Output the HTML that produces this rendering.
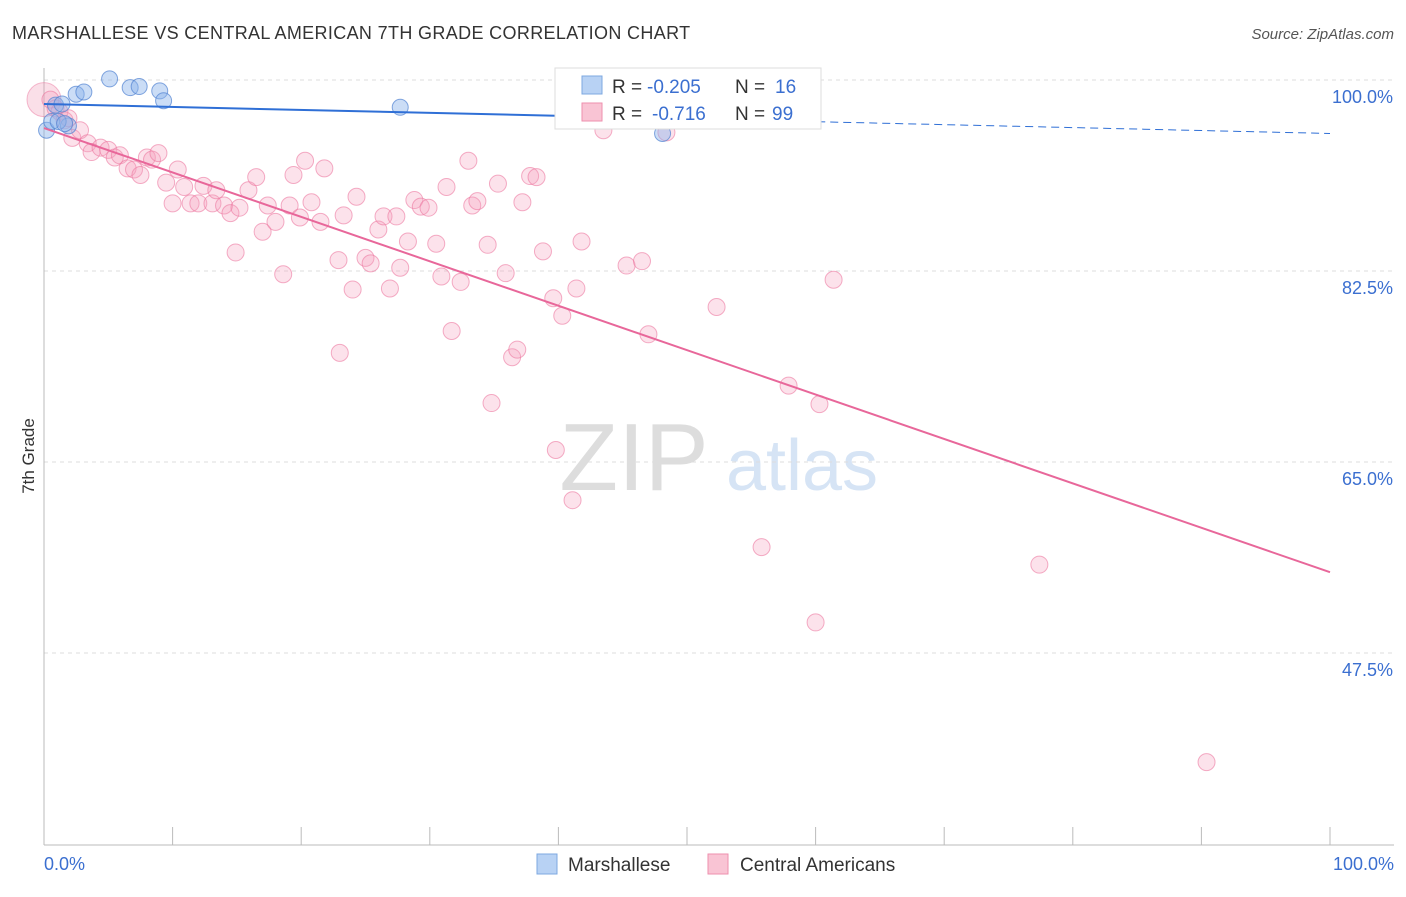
<!DOCTYPE html>
<html><head><meta charset="utf-8"><style>
body{margin:0;background:#fff;font-family:"Liberation Sans",sans-serif;}
svg text{font-family:"Liberation Sans",sans-serif;}
</style></head><body>
<svg id="chart" width="1406" height="892" xmlns="http://www.w3.org/2000/svg">
<text x="12" y="39" font-size="18" fill="#333" letter-spacing="0.35">MARSHALLESE VS CENTRAL AMERICAN 7TH GRADE CORRELATION CHART</text>
<text x="1394" y="39" font-size="15" fill="#555" text-anchor="end" font-style="italic">Source: ZipAtlas.com</text>
<text transform="translate(34,456) rotate(-90)" font-size="17" fill="#333" text-anchor="middle">7th Grade</text>
<g>
<text x="634" y="490" font-size="96" fill="#ddd" text-anchor="middle" font-family="Liberation Serif, serif">ZIP</text>
<text x="802" y="490" font-size="72" fill="#d6e4f5" text-anchor="middle">atlas</text>
</g>
<g id="grid"></g><g id="axes"></g><g id="marks"></g>
<g>
<rect x="555" y="68" width="266" height="61" fill="#fff" stroke="#ddd"/>
<rect x="582" y="76" width="20" height="18" fill="#b8d2f4" stroke="#7ea8e0"/>
<text x="612" y="93" font-size="19" fill="#333">R =</text>
<text x="647" y="93" font-size="19" fill="#3b6fd0">-0.205</text>
<text x="735" y="93" font-size="19" fill="#333">N =</text>
<text x="775" y="93" font-size="19" fill="#3b6fd0">16</text>
<rect x="582" y="103" width="20" height="18" fill="#f9c4d4" stroke="#ee8fae"/>
<text x="612" y="120" font-size="19" fill="#333">R =</text>
<text x="652" y="120" font-size="19" fill="#3b6fd0">-0.716</text>
<text x="735" y="120" font-size="19" fill="#333">N =</text>
<text x="772" y="120" font-size="19" fill="#3b6fd0">99</text>
</g>
<g>
<rect x="537" y="854" width="20" height="20" fill="#b8d2f4" stroke="#7ea8e0"/>
<text x="568" y="871" font-size="19" fill="#333">Marshallese</text>
<rect x="708" y="854" width="20" height="20" fill="#f9c4d4" stroke="#ee8fae"/>
<text x="740" y="871" font-size="19" fill="#333">Central Americans</text>
</g>
</svg>
<script>
const yTicks=[100,82.5,65,47.5];
const yTickLabels=["100.0%","82.5%","65.0%","47.5%"];
const xEndLabels=["0.0%","100.0%"];
const blueX=[0.2,0.6,0.9,1.4,1.9,2.5,3.1,5.1,6.7,7.4,9.0,9.3,27.7,48.1,1.1,1.6];
const blueY=[95.4,96.2,97.7,97.8,95.8,98.7,98.9,100.1,99.3,99.4,99.0,98.1,97.5,95.1,96.2,96.0];
const pinkX=[0.5,0.9,1.2,1.6,1.9,2.2,2.8,3.4,3.7,4.4,5.0,5.5,5.9,6.5,7.0,7.5,8.0,8.4,8.9,9.5,10.0,10.4,10.9,11.4,12.0,12.4,13.1,13.4,14.0,14.5,14.9,15.2,15.9,16.5,17.0,17.4,18.0,18.6,19.1,19.4,19.9,20.3,20.8,21.5,21.8,22.9,23.0,23.3,24.0,24.3,25.0,25.4,26.0,26.4,26.9,27.4,27.7,28.3,28.8,29.3,29.9,30.5,30.9,31.3,31.7,32.4,33.0,33.3,33.7,34.5,34.8,35.3,35.9,36.4,36.8,37.2,37.8,38.3,38.8,39.6,39.8,40.3,41.1,41.4,41.8,43.5,45.3,46.5,47.0,48.4,52.3,55.8,57.9,60.0,60.3,61.4,77.4,90.4,49.0];
const pinkY=[98.2,97.4,97.1,96.3,96.5,94.7,95.4,94.2,93.4,93.8,93.6,92.9,93.1,91.9,91.8,91.3,92.9,92.7,93.3,90.6,88.7,91.8,90.2,88.7,88.7,90.3,88.7,89.9,88.5,87.8,84.2,88.3,89.9,91.1,86.1,88.5,87.0,82.2,88.5,91.3,87.4,92.6,88.8,87.0,91.9,83.5,75.0,87.6,80.8,89.3,83.7,83.2,86.3,87.5,80.9,87.5,82.8,85.2,89.0,88.4,88.3,85.0,82.0,90.2,77.0,81.5,92.6,88.5,88.9,84.9,70.4,90.5,82.3,74.6,75.3,88.8,91.2,91.1,84.3,80.0,66.1,78.4,61.5,80.9,85.2,95.4,83.0,83.4,76.7,95.2,79.2,57.2,72.0,50.3,70.3,81.7,55.6,37.5,100.0];
const blueTrend=[97.8,95.1];
const pinkTrend=[95.6,54.9];
const X=v=>44+v*12.86;
const Y=v=>80+(100-v)*10.914;
const NS="http://www.w3.org/2000/svg";
function mk(tag,attrs,parent){const e=document.createElementNS(NS,tag);for(const k in attrs)e.setAttribute(k,attrs[k]);document.getElementById(parent).appendChild(e);return e;}
yTicks.forEach((t,i)=>{
 const l=mk('line',{x1:44,x2:1394,y1:Y(t),y2:Y(t),stroke:'#ddd','stroke-dasharray':'4,4'},'grid');
 
 
 const tx=mk('text',{x:1393,y:Y(t)+23,'font-size':18,fill:'#3b6fd0','text-anchor':'end'},'axes');tx.textContent=yTickLabels[i];
 
 
});
const ax=mk('line',{x1:44,x2:44,y1:68,y2:845,stroke:'#bbb'},'axes');


const bx=mk('line',{x1:44,x2:1394,y1:845,y2:845,stroke:'#bbb'},'axes');


for(let i=1;i<=10;i++){const t=mk('line',{x1:X(i*10),x2:X(i*10),y1:827,y2:845,stroke:'#bbb'},'axes');
 
 }
[[0,'start'],[100,'end']].forEach((p,i)=>{const t=mk('text',{x:i?1394:44,y:870,'font-size':18,fill:'#3b6fd0','text-anchor':p[1]},'axes');t.textContent=xEndLabels[i];
 
 });
const big=mk('circle',{cx:X(0),cy:Y(98.2),r:17,fill:'rgba(240,150,180,0.3)',stroke:'rgba(236,120,160,0.5)'},'marks');


pinkX.forEach((x,i)=>{const c=mk('circle',{cx:X(x),cy:Y(pinkY[i]),r:8.5,fill:'rgba(244,160,188,0.3)',stroke:'rgba(236,120,160,0.6)'},'marks');
 
 });
blueX.forEach((x,i)=>{const c=mk('circle',{cx:X(x),cy:Y(blueY[i]),r:8,fill:'rgba(140,180,235,0.45)',stroke:'rgba(80,130,210,0.7)'},'marks');
 
 });
const bAt=v=>blueTrend[0]+(blueTrend[1]-blueTrend[0])*v/100;
const b1=mk('line',{x1:X(0),y1:Y(bAt(0)),x2:X(48),y2:Y(bAt(48)),stroke:'#2f6fd6','stroke-width':2},'marks');


const b2=mk('line',{x1:X(48),y1:Y(bAt(48)),x2:X(100),y2:Y(bAt(100)),stroke:'#2f6fd6','stroke-width':1,'stroke-dasharray':'8,5'},'marks');


const p1=mk('line',{x1:X(0),y1:Y(pinkTrend[0]),x2:X(100),y2:Y(pinkTrend[1]),stroke:'#e8679a','stroke-width':2},'marks');


</script>
</body></html>
